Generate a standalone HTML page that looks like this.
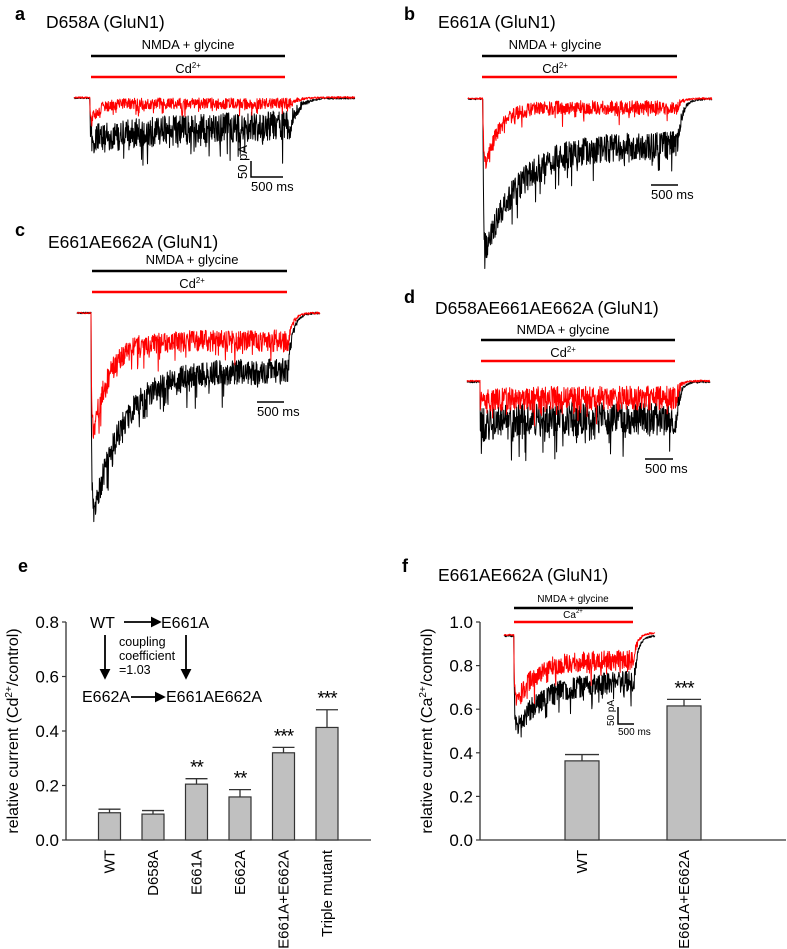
<!DOCTYPE html>
<html><head><meta charset="utf-8"><style>
html,body{margin:0;padding:0;background:#fff}
svg{display:block;font-family:"Liberation Sans",Arial,sans-serif}
</style></head><body>
<svg id="fig" width="787" height="949" viewBox="0 0 787 949" xmlns="http://www.w3.org/2000/svg">
<g font-weight="bold" font-size="18" fill="#000">
<text x="15" y="20">a</text>
<text x="404" y="20">b</text>
<text x="15" y="236">c</text>
<text x="404" y="303">d</text>
<text x="18" y="572">e</text>
<text x="402" y="572">f</text>
</g>
<g font-size="17.5" fill="#000">
<text x="46" y="28">D658A (GluN1)</text>
<text x="438" y="28">E661A (GluN1)</text>
<text x="48" y="248">E661AE662A (GluN1)</text>
<text x="435" y="314">D658AE661AE662A (GluN1)</text>
<text x="438" y="581">E661AE662A (GluN1)</text>
</g>
<g id="traces"></g>
<g id="chartE"></g>
<g id="chartF"></g>
</svg>
<script>
const NS='http://www.w3.org/2000/svg';
// ---- Bar chart data ----
const eCategories=['WT','D658A','E661A','E662A','E661A+E662A','Triple mutant'];
const eValues=[0.100,0.095,0.205,0.158,0.320,0.413];
const eErrors=[0.013,0.013,0.020,0.027,0.020,0.065];
const eStars=['','','**','**','***','***'];
const eTicks=[0.0,0.2,0.4,0.6,0.8];
const fCategories=['WT','E661A+E662A'];
const fValues=[0.363,0.615];
const fErrors=[0.029,0.030];
const fStars=['','***'];
const fTicks=[0.0,0.2,0.4,0.6,0.8,1.0];

function mk(tag,attrs,parent,text){const e=document.createElementNS(NS,tag);for(const k in attrs)e.setAttribute(k,attrs[k]);if(text!==undefined)e.textContent=text;parent.appendChild(e);return e;}

let seed=12345;function rnd(){seed=(seed*1103515245+12345)%2147483648;return seed/2147483648;}
const T=document.getElementById('traces');
function trace(p,color,name){
  let d='';const base=p.base;
  for(let x=p.x0;x<=p.x1;x+=0.35){
    let depth=0;
    if(x>=p.on&&x<=p.off){const t=x-p.on;depth=p.ss+(p.peak-p.ss)*Math.exp(-t/p.tau)*(1-Math.exp(-t/0.8));}
    else if(x>p.off){const dOff=p.ss+(p.peak-p.ss)*Math.exp(-(p.off-p.on)/p.tau);depth=dOff*Math.exp(-(x-p.off)/p.trec);}
    let n=(rnd()-0.5)*1.5;
    if(x>=p.on&&x<=p.off){n=(rnd()-0.5)*p.noise;if(rnd()<0.08)n+=rnd()*p.noise*0.9;}
    else if(x>p.off){n=(rnd()-0.5)*Math.max(2,p.noise*Math.exp(-(x-p.off)/p.trec));}
    const y=base+depth+n+(x>p.off?p.shift||0:0)*(1-Math.exp(-(x-p.off)/p.trec));
    d+=(d?'L':'M')+x.toFixed(2)+','+y.toFixed(2);
  }
  const el=mk('path',{d:d,fill:'none',stroke:color,'stroke-width':'1','stroke-linejoin':'round'},T);
  
  
}
function bars(x1,x2,yb,yr,tc,ty,cy,fs,pre){
  let e=mk('line',{x1:x1,x2:x2,y1:yb,y2:yb,stroke:'#000','stroke-width':2.4},T);
  
  
  e=mk('line',{x1:x1,x2:x2,y1:yr,y2:yr,stroke:'#f00','stroke-width':2.4},T);
  
  
  e=mk('text',{x:tc,y:ty,'font-size':fs,'text-anchor':'middle'},T,'NMDA + glycine');
  
  
  e=mk('text',{x:tc,y:cy,'font-size':fs,'text-anchor':'middle'},T);
  
  
  e.innerHTML=(pre==='f'?'Ca':'Cd')+'<tspan dy="-5" font-size="'+(fs*0.6)+'">2+</tspan>';
}
function scalebar(x,y,w,h,pre,fs){
  const g=mk('g',{},T);
  
  
  let d='M'+x+','+y+'L'+(x+w)+','+y;if(h)d='M'+x+','+(y-h)+'L'+x+','+y+'L'+(x+w)+','+y;
  mk('path',{d:d,fill:'none',stroke:'#000','stroke-width':1.5},g);
  mk('text',{x:x,y:y+fs+1,'font-size':fs},g,'500 ms');
  if(h)mk('text',{x:0,y:0,'font-size':fs,transform:'translate('+(x-4)+','+(y+2)+') rotate(-90)'},g,'50 pA');
}
bars(91,285,56,77,188,49,73,13,'a');
trace({x0:74,x1:355,on:90,off:290,base:98,peak:42,ss:26,tau:90,noise:30,trec:9},'#000','trace-a-control');
trace({x0:74,x1:355,on:90,off:290,base:97.5,peak:26,ss:6,tau:8,noise:11,trec:9},'#f00','trace-a-cd');
scalebar(251,177,32,16,'a',13);
bars(482,677,56,77,555,49,73,13,'b');
trace({x0:468,x1:712,on:483,off:677,base:99,peak:160,ss:46,tau:35,noise:28,trec:5},'#000','trace-b-control');
trace({x0:468,x1:712,on:483,off:677,base:98.5,peak:78,ss:9,tau:14,noise:14,trec:5},'#f00','trace-b-cd');
scalebar(651,185,27,0,'b',13);
bars(92,287,271,292,192,264,288,13,'c');
trace({x0:77,x1:320,on:91,off:288,base:313,peak:215,ss:58,tau:30,noise:26,trec:5},'#000','trace-c-control');
trace({x0:77,x1:320,on:91,off:288,base:313,peak:135,ss:28,tau:16,noise:22,trec:5},'#f00','trace-c-cd');
scalebar(257,402,27,0,'c',13);
bars(481,675,340,361,563,334,357,13,'d');
trace({x0:467,x1:710,on:480,off:676,base:382,peak:42,ss:36,tau:40,noise:34,trec:4},'#000','trace-d-control');
trace({x0:467,x1:710,on:480,off:676,base:381,peak:22,ss:17,tau:20,noise:24,trec:4},'#f00','trace-d-cd');
scalebar(645,459,28,0,'d',13);
bars(514,633,608,622,573,602,618,10,'f');
trace({x0:504,x1:655,on:514,off:634,base:636,peak:95,ss:45,tau:30,noise:22,trec:4},'#000','trace-f-control');
trace({x0:504,x1:655,on:514,off:634,base:635,peak:72,ss:25,tau:20,noise:20,trec:4,shift:-2},'#f00','trace-f-ca');
scalebar(618,724,16,17,'f',10);

function barChart(gid,pre,cats,vals,errs,stars,ticks,opt){
  const g=document.getElementById(gid);
  const y=v=>opt.y0-(v-ticks[0])/(ticks[ticks.length-1]-ticks[0])*(opt.y0-opt.yTop);
  const x=i=>opt.xFirst+i*opt.step;
  let e=mk('line',{x1:opt.ax,x2:opt.ax,y1:y(ticks[ticks.length-1]),y2:opt.y0,stroke:'#333','stroke-width':1.3},g);
  
  
  e=mk('line',{x1:opt.ax,x2:opt.axEnd,y1:opt.y0,y2:opt.y0,stroke:'#333','stroke-width':1.3},g);
  
  
  ticks.forEach(t=>{
    let l=mk('line',{x1:opt.ax-4,x2:opt.ax,y1:y(t),y2:y(t),stroke:'#333','stroke-width':1.2},g);
    
    
    let tx=mk('text',{x:opt.ax-7,y:y(t)+6,'font-size':17,'text-anchor':'end'},g,t.toFixed(1));
    
    
  });
  cats.forEach((c,i)=>{
    const cx=x(i),w=opt.bw;
    let eb=mk('path',{d:'M'+cx+','+y(vals[i])+'L'+cx+','+y(vals[i]+errs[i])+'M'+(cx-w/2)+','+y(vals[i]+errs[i])+'L'+(cx+w/2)+','+y(vals[i]+errs[i]),stroke:'#333','stroke-width':1.3,fill:'none'},g);
    
    
    let r=mk('rect',{x:cx-w/2,y:y(vals[i]),width:w,height:opt.y0-y(vals[i]),fill:'#c0c0c0',stroke:'#333','stroke-width':1.2},g);
    
    
    if(stars[i]){let s=mk('text',{x:cx,y:y(vals[i]+errs[i])-5,'font-size':19,'text-anchor':'middle','letter-spacing':'-1'},g,stars[i]);
      
      }
    let cl=mk('text',{x:0,y:0,'font-size':15,'text-anchor':'end',transform:'translate('+(cx+5)+','+(opt.y0+10)+') rotate(-90)'},g,c);
    
    
  });
  let yt=mk('text',{x:0,y:0,'font-size':16,'text-anchor':'middle',transform:'translate('+opt.titleX+','+((opt.y0+y(ticks[ticks.length-1]))/2)+') rotate(-90)'},g);
  yt.innerHTML='relative current ('+opt.ion+'<tspan dy="-6" font-size="10">2+</tspan><tspan dy="6">/control)</tspan>';
  
  
}
barChart('chartE','e',eCategories,eValues,eErrors,eStars,eTicks,{ax:66,axEnd:371,y0:840,yTop:622,xFirst:109.5,step:43.5,bw:22,titleX:18,ion:'Cd'});
barChart('chartF','f',fCategories,fValues,fErrors,fStars,fTicks,{ax:480,axEnd:786,y0:840,yTop:622,xFirst:582,step:102,bw:34,titleX:432,ion:'Ca'});

const cg=mk('g',{'font-size':16},document.getElementById('chartE'));


mk('defs',{},cg).innerHTML='<marker id="ah" markerWidth="6" markerHeight="6" refX="5" refY="3" orient="auto"><path d="M0,0L6,3L0,6z" fill="#000"/></marker>';
mk('text',{x:90,y:628},cg,'WT');
mk('text',{x:161,y:628},cg,'E661A');
mk('text',{x:82,y:702},cg,'E662A');
mk('text',{x:166,y:702},cg,'E661AE662A');
mk('text',{x:119,y:646,'font-size':12.5},cg,'coupling');
mk('text',{x:119,y:660,'font-size':12.5},cg,'coefficient');
mk('text',{x:119,y:674,'font-size':12.5},cg,'=1.03');
[[124,622,160,622],[131,697,164,697],[105,635,105,678],[186,635,186,678]].forEach(a=>{
  const l=mk('line',{x1:a[0],y1:a[1],x2:a[2],y2:a[3],stroke:'#000','stroke-width':1.8,'marker-end':'url(#ah)'},cg);
  
  
});
</script>
</body></html>
